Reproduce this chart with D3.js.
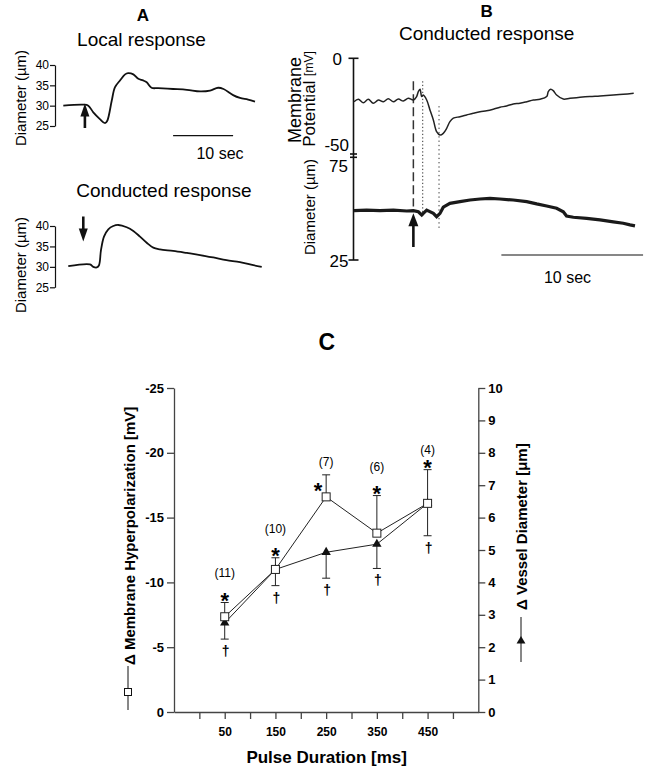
<!DOCTYPE html>
<html><head><meta charset="utf-8">
<script src="https://cdn.jsdelivr.net/npm/d3@7"></script>
<style>
body{margin:0;background:#fff;}
svg{font-family:"Liberation Sans",Arial,Helvetica,sans-serif;}
text{fill:#000;}
</style></head><body>
<svg id="fig" width="656" height="773"></svg>
<script>
// ---------- Panel A : diameter traces (time in s, diameter in µm) ----------
const localTime = [0,3.33,4.17,5,6.1,6.95,7.33,8.07,8.6,9.45,10.3,10.8,11.67,12.5,13.3,13.9,14.7,15.8,18.3,20.6,22.8,24.45,25.8,26.7,28.3,29.45,30.8,31.95];
const localDiam = [30,30.25,30,28.35,26.7,25.7,26.3,31.2,34.5,36.2,37.7,38,37.7,36.6,36.2,35.75,34.4,34.3,34.1,33.9,33.5,33.7,34.4,34.1,32.6,31.9,31.5,31];
const condTimeA = [0.83,4.45,5,5.57,5.95,6.28,6.78,7.5,8.33,9.17,10.57,11.67,12.78,13.9,15,16.1,18.3,20.6,22.8,25,27.2,29.45,31.67,33.07];
const condDiamA = [30.17,30.6,30,29.85,30.4,34.1,37.4,39.2,40,40.25,39.7,38.8,37.4,35.9,34.7,34.3,33.9,33.4,32.9,32.3,31.65,31.15,30.4,30];
const ticksA = [25,30,35,40];
const stimLocalA = 3.6, stimCondA = 3.33;
const scaleBarStartA = 18.3, scaleBarLen = 10;

// ---------- Panel B : conducted response ----------
const membTime = [0,0.31,0.66,1.01,1.36,1.72,2.07,2.42,2.78,3.13,3.48,3.83,4.19,4.42,4.54,4.66,4.78,4.89,5.13,5.36,5.6,5.83,6.07,6.3,6.54,6.77,7.01,7.48,7.95,8.42,8.89,9.36,9.83,10.3,10.77,11.24,11.71,12.19,12.66,13.13,13.6,13.71,13.88,14.06,14.3,14.77,15.24,15.95,16.65,17.36,18.3,19.0,19.74];
const membPot = [-22.7,-21.4,-23.2,-21.4,-23.5,-21.8,-22.7,-21.1,-22.7,-21.3,-22.3,-20.9,-21.8,-20,-17.4,-16.2,-20,-19.2,-21.8,-27,-32.2,-38.3,-40.1,-39.2,-36.6,-33.1,-31.3,-30.5,-29.6,-28.7,-27.9,-27.4,-26.6,-25.6,-24.9,-23.9,-23.5,-22.7,-21.8,-21.4,-20,-17.4,-16.2,-16.9,-19.2,-21.3,-20.9,-20.4,-20,-19.7,-19.2,-18.8,-18.3];
const diamTimeB = [0,0.89,1.83,2.78,3.72,4.19,4.54,4.78,4.89,5.13,5.6,5.83,6.07,6.3,6.77,7.48,8.19,8.89,9.6,10.3,11.24,12.19,12.89,13.6,14.3,14.77,15.0,15.48,16.42,17.36,18.3,19.0,19.48,19.83];
const diamB = [49,49.3,49,49.3,48.85,49,48.5,46.9,47.7,49.3,47.7,46.1,47.7,50.7,52.6,53.4,54.2,54.7,55,54.7,54.2,53.4,52.3,51.3,50.2,48.5,46.4,45.8,45.3,44.5,43.6,42.9,42.1,41.6];
const stimB = 4.19, onsetMemb = 4.85, onsetDiam = 6.0;
const scaleBarStartB = 10.4;

// ---------- Panel C : summary ----------
const pulse = [50,150,250,350,450];
const membMean = [-7.35,-11.0,-16.6,-13.8,-16.1];
const membSE = [1.1,0.9,1.7,2.9,2.6];
const diamMean = [2.75,4.4,4.93,5.18,6.44];
const diamSE = [0.5,0.5,0.8,0.75,1.0];
const nObs = [11,10,7,6,4];
const ticksCLeft = [0,-5,-10,-15,-20,-25];
const ticksCRight = [0,1,2,3,4,5,6,7,8,9,10];
const ticksCBottom = [0,50,100,150,200,250,300,350,400,450,500];
const labeledPulse = [50,150,250,350,450];

const svg = d3.select("#fig");
const ink = "#111";

function arrow(g, x, yTail, yTip, w, h) {
  const dir = yTip < yTail ? 1 : -1;
  g.append("line").attr("x1", x).attr("x2", x).attr("y1", yTail).attr("y2", yTip + dir*h*0.8)
    .attr("stroke", ink).attr("stroke-width", 2.6);
  g.append("path").attr("d", `M${x},${yTip} L${x-w/2},${yTip+dir*h} L${x+w/2},${yTip+dir*h} Z`).attr("fill", ink);
}

// ======== Panel A ========
const A = svg.append("g");
const xA = d3.scaleLinear().domain([0, 32]).range([63.3, 255.3]);
const yA1 = d3.scaleLinear().domain([25, 40]).range([126, 65]);
const yA2 = d3.scaleLinear().domain([25, 40]).range([287.3, 226]);

A.append("text").attr("x", 143).attr("y", 21).attr("text-anchor", "middle")
  .attr("font-weight", "bold").attr("font-size", 17).text("A");
A.append("text").attr("x", 141.5).attr("y", 46).attr("text-anchor", "middle")
  .attr("font-size", 19).text("Local response");
A.append("text").attr("x", 164).attr("y", 197).attr("text-anchor", "middle")
  .attr("font-size", 19).text("Conducted response");

function axisA(yS, yc) {
  const g = A.append("g").attr("transform", "translate(55,0)")
    .call(d3.axisLeft(yS).tickValues(ticksA).tickSize(5).tickSizeOuter(0).tickPadding(1));
  g.select(".domain").attr("stroke", ink).attr("stroke-width", 1.2);
  g.selectAll(".tick line").attr("stroke", ink).attr("stroke-width", 1.2);
  g.selectAll(".tick text").attr("font-size", 12).attr("font-family", "Liberation Sans, Arial").attr("fill", "#000");
  A.append("text").attr("transform", `translate(20,${yc}) rotate(-90)`).attr("text-anchor", "middle")
    .attr("dominant-baseline", "central").attr("font-size", 15).text("Diameter (µm)");
}
axisA(yA1, 98);
axisA(yA2, 265);

const lineA1 = d3.line().x((d,i)=>xA(localTime[i])).y(d=>yA1(d)).curve(d3.curveCatmullRom);
const lineA2 = d3.line().x((d,i)=>xA(condTimeA[i])).y(d=>yA2(d)).curve(d3.curveCatmullRom);
A.append("path").attr("d", lineA1(localDiam)).attr("fill","none").attr("stroke",ink).attr("stroke-width",1.8);
A.append("path").attr("d", lineA2(condDiamA)).attr("fill","none").attr("stroke",ink).attr("stroke-width",1.8);

arrow(A, xA(stimLocalA), 128, 103.5, 9, 13);
arrow(A, xA(stimCondA), 216.5, 241.5, 9, 13);

A.append("line").attr("x1", xA(scaleBarStartA)).attr("x2", xA(scaleBarStartA+scaleBarLen))
  .attr("y1", 135.7).attr("y2", 135.7).attr("stroke", ink).attr("stroke-width", 1.2);
A.append("text").attr("x", 220).attr("y", 159).attr("text-anchor","middle").attr("font-size",16).text("10 sec");

// ======== Panel B ========
const B = svg.append("g");
const xB = d3.scaleLinear().domain([0, 20]).range([354, 637.4]);
const yMem = d3.scaleLinear().domain([0, -50]).range([58.3, 154]);
const yDiB = d3.scaleLinear().domain([75, 25]).range([157.3, 260]);
const axX = 353.5;

B.append("text").attr("x", 486.7).attr("y", 16.5).attr("text-anchor","middle")
  .attr("font-weight","bold").attr("font-size",17).text("B");
B.append("text").attr("x", 486.7).attr("y", 40).attr("text-anchor","middle")
  .attr("font-size",19).text("Conducted response");

B.append("line").attr("x1",axX).attr("x2",axX).attr("y1",yMem(0)).attr("y2",yDiB(25))
  .attr("stroke",ink).attr("stroke-width",1.6);
[[yMem(0),5],[yDiB(25),5],[yMem(-50),3.5],[yDiB(75),3.5]].forEach(([y,w])=>{
  B.append("line").attr("x1",axX-w).attr("x2",axX+w).attr("y1",y).attr("y2",y)
    .attr("stroke",ink).attr("stroke-width",1.6);
});
const tb = (t,x,y)=>B.append("text").attr("x",x).attr("y",y).attr("text-anchor","end")
  .attr("dominant-baseline","central").attr("font-size",17).text(t);
tb("0", 342, yMem(0)+1);
tb("-50", 349, yMem(-50)-9);
tb("75", 348, yDiB(75)+9);
tb("25", 348.5, yDiB(25)+1.5);

B.append("text").attr("transform","translate(295,100) rotate(-90)").attr("text-anchor","middle")
  .attr("dominant-baseline","central").attr("font-size",18).text("Membrane");
const pt = B.append("text").attr("transform","translate(309,99) rotate(-90)").attr("text-anchor","middle")
  .attr("dominant-baseline","central").attr("font-size",17);
pt.append("tspan").text("Potential ");
pt.append("tspan").attr("font-size",12).text("[mV]");
B.append("text").attr("transform","translate(309,207) rotate(-90)").attr("text-anchor","middle")
  .attr("dominant-baseline","central").attr("font-size",15).text("Diameter (µm)");

// reference lines
B.append("line").attr("x1",xB(stimB)).attr("x2",xB(stimB)).attr("y1",yMem(-12)).attr("y2",yDiB(51))
  .attr("stroke","#333").attr("stroke-width",1.5).attr("stroke-dasharray","9,4");
B.append("line").attr("x1",xB(onsetMemb)).attr("x2",xB(onsetMemb)).attr("y1",yMem(-12)).attr("y2",yDiB(46))
  .attr("stroke","#333").attr("stroke-width",1).attr("stroke-dasharray","1.3,2.2");
B.append("line").attr("x1",xB(onsetDiam)).attr("x2",xB(onsetDiam)).attr("y1",yMem(-25)).attr("y2",yDiB(40))
  .attr("stroke","#333").attr("stroke-width",1).attr("stroke-dasharray","1.3,3");

const lineMem = d3.line().x((d,i)=>xB(membTime[i])).y(d=>yMem(d)).curve(d3.curveCatmullRom);
const lineDB = d3.line().x((d,i)=>xB(diamTimeB[i])).y(d=>yDiB(d));
B.append("path").attr("d",lineMem(membPot)).attr("fill","none").attr("stroke","#222").attr("stroke-width",1.5);
B.append("path").attr("d",lineDB(diamB)).attr("fill","none").attr("stroke","#1a1a1a").attr("stroke-width",3.2);

arrow(B, xB(stimB), 247, 213.3, 10, 13);

B.append("line").attr("x1",xB(scaleBarStartB)).attr("x2",xB(scaleBarStartB+scaleBarLen))
  .attr("y1",255).attr("y2",255).attr("stroke",ink).attr("stroke-width",1.2);
B.append("text").attr("x",567.5).attr("y",282.5).attr("text-anchor","middle").attr("font-size",16).text("10 sec");

// ======== Panel C ========
const C = svg.append("g");
const xC = d3.scaleLinear().domain([-50, 550]).range([174, 478.3]);
const yL = d3.scaleLinear().domain([0, -25]).range([712, 388]);
const yR = d3.scaleLinear().domain([0, 10]).range([712, 388]);
const axisCol = "#444";

C.append("text").attr("x",326.7).attr("y",350).attr("text-anchor","middle")
  .attr("font-weight","bold").attr("font-size",23).text("C");

function styleAxis(g){
  g.select(".domain").attr("stroke",axisCol).attr("stroke-width",1.3);
  g.selectAll(".tick line").attr("stroke",axisCol).attr("stroke-width",1.3);
  g.selectAll(".tick text").attr("font-size",13).attr("font-weight","bold")
    .attr("font-family","Liberation Sans, Arial").attr("fill","#000");
}
const gl = C.append("g").attr("transform",`translate(${xC(-50)},0)`)
  .call(d3.axisLeft(yL).tickValues(ticksCLeft).tickSize(7).tickSizeOuter(0).tickPadding(3).tickFormat(d=>String(d)));
styleAxis(gl);
const gr = C.append("g").attr("transform",`translate(${xC(550)},0)`)
  .call(d3.axisRight(yR).tickValues(ticksCRight).tickSize(7).tickSizeOuter(0).tickPadding(3).tickFormat(d=>String(d)));
styleAxis(gr);
const gb = C.append("g").attr("transform",`translate(0,${yL(0)})`)
  .call(d3.axisBottom(xC).tickValues(ticksCBottom).tickSize(7).tickSizeOuter(0).tickPadding(8)
    .tickFormat(d=>labeledPulse.includes(d)?String(d):""));
styleAxis(gb);
gb.selectAll(".tick text").attr("font-size",12);

C.append("text").attr("x",326.7).attr("y",763).attr("text-anchor","middle")
  .attr("font-weight","bold").attr("font-size",17).text("Pulse Duration [ms]");

C.append("text").attr("transform","translate(129,665) rotate(-90)").attr("text-anchor","start")
  .attr("dominant-baseline","central").attr("font-weight","bold").attr("font-size",15)
  .text("Δ Membrane Hyperpolarization [mV]");
C.append("text").attr("transform","translate(521.5,610) rotate(-90)").attr("text-anchor","start")
  .attr("dominant-baseline","central").attr("font-weight","bold").attr("font-size",15)
  .text("Δ Vessel Diameter [μm]");

// legend keys
C.append("line").attr("x1",128).attr("x2",128).attr("y1",666).attr("y2",710).attr("stroke",ink).attr("stroke-width",1);
C.append("rect").attr("x",124.5).attr("y",688.5).attr("width",7).attr("height",7).attr("fill","#fff").attr("stroke",ink);
C.append("line").attr("x1",521).attr("x2",521).attr("y1",617).attr("y2",662).attr("stroke",ink).attr("stroke-width",1);
C.append("path").attr("d",d3.symbol(d3.symbolTriangle,34)()).attr("transform","translate(521,641)").attr("fill",ink);

// connecting lines
const lineM = d3.line().x((d,i)=>xC(pulse[i])).y(d=>yL(d));
const lineD = d3.line().x((d,i)=>xC(pulse[i])).y(d=>yR(d));
// error bars (membrane: upward, diameter: downward)
pulse.forEach((p,i)=>{
  const x = xC(p);
  const yt = yL(membMean[i]-membSE[i]);
  C.append("line").attr("x1",x).attr("x2",x).attr("y1",yL(membMean[i])).attr("y2",yt).attr("stroke","#222");
  C.append("line").attr("x1",x-4).attr("x2",x+4).attr("y1",yt).attr("y2",yt).attr("stroke","#222");
  const yb = yR(diamMean[i]-diamSE[i]);
  C.append("line").attr("x1",x).attr("x2",x).attr("y1",yR(diamMean[i])).attr("y2",yb).attr("stroke","#222");
  C.append("line").attr("x1",x-4).attr("x2",x+4).attr("y1",yb).attr("y2",yb).attr("stroke","#222");
});
C.append("path").attr("d",lineD(diamMean)).attr("fill","none").attr("stroke","#222").attr("stroke-width",1);
C.append("path").attr("d",lineM(membMean)).attr("fill","none").attr("stroke","#222").attr("stroke-width",1);
pulse.forEach((p,i)=>{
  C.append("path").attr("d",d3.symbol(d3.symbolTriangle,38)()).attr("transform",`translate(${xC(p)},${yR(diamMean[i])})`).attr("fill",ink);
});
pulse.forEach((p,i)=>{
  C.append("rect").attr("x",xC(p)-4).attr("y",yL(membMean[i])-4).attr("width",8).attr("height",8)
    .attr("fill","#fff").attr("stroke","#222").attr("stroke-width",1);
});

// annotations: asterisks, daggers, n
pulse.forEach((p,i)=>{
  const x = xC(p);
  const yt = yL(membMean[i]-membSE[i]);
  const beside = membSE[i] < 2 && membMean[i] < -15; // asterisk placed beside the marker
  const ax = beside ? x-8 : x;
  const ay = beside ? yL(membMean[i])-10 : yt-6;
  C.append("text").attr("x",ax).attr("y",ay+11.5).attr("text-anchor","middle")
    .attr("font-weight","bold").attr("font-size",22).text("*");
  const yb = yR(diamMean[i]-diamSE[i]);
  C.append("text").attr("x",x+1).attr("y",yb+12).attr("text-anchor","middle").attr("dominant-baseline","central")
    .attr("font-weight","bold").attr("font-size",14).text("†");
  const ny = beside ? yt-12.5 : (i===4 ? yt-20 : yt-29);
  C.append("text").attr("x",x).attr("y",ny).attr("text-anchor","middle").attr("dominant-baseline","central")
    .attr("font-size",12).text(`(${nObs[i]})`);
});
</script>
</body></html>
